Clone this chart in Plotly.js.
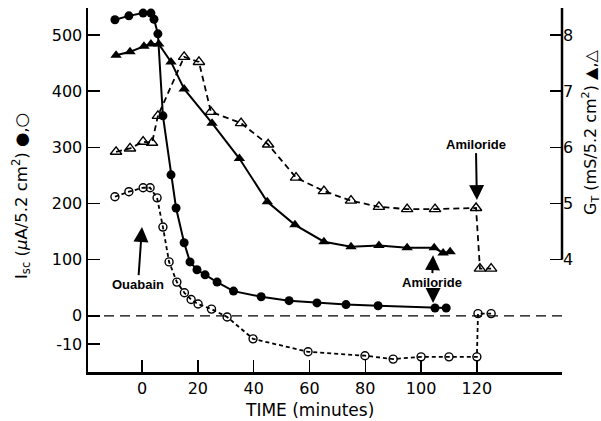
<!DOCTYPE html>
<html><head><meta charset="utf-8">
<script src="https://cdn.plot.ly/plotly-3.0.1.min.js"></script>
<style>html,body{margin:0;padding:0;background:#fff}#c{width:601px;height:421px}</style>
</head><body><div id="c"></div>
<script>
// Isc, filled circles (left axis units; below zero the axis is expanded, "-10" label sits at -50)
var timeIscFilled = [-9.7,-4.7,0.4,3.2,4.3,5.7,7.5,10.4,12.2,15.1,17.2,19.7,22.6,26.9,32.8,42.7,52.7,62.7,73.1,84.6,105,109];
var iscFilled     = [527,534,539,539,528,502,356,251,192,130,96,82,73,60,44,34,27,23,20,18,14,14];
// Isc, open circles
var timeIscOpen = [-9.7,-4.7,0.4,2.9,5.4,7.5,9.7,12.5,15.2,17.6,20.1,24.9,30.5,39.8,59.5,79.9,90,100,110,120,120.4,125.1];
var iscOpen     = [212,221,228,228,210,158,96,60,41,29,21,12,-2,-41,-64,-71,-77,-73,-73,-73,4,4];
// GT, filled triangles (right axis)
var timeGtFilled = [-9.3,-4.3,0.7,3.2,6.0,10.4,15.1,25.1,34.9,44.9,54.8,65.2,74.9,84.9,95,104.7,107.9,110.4];
var gtFilled     = [7.64,7.70,7.80,7.84,7.84,7.52,7.04,6.43,5.80,5.03,4.62,4.32,4.23,4.25,4.21,4.21,4.12,4.14];
// GT, open triangles
var timeGtOpen = [-9.3,-4.3,0.4,3.6,5.7,15.1,20.4,24.7,35.5,45.2,55.2,65.2,74.9,84.9,95,105,119.7,121.1,125.1];
var gtOpen     = [5.92,5.98,6.10,6.08,6.56,7.61,7.52,6.63,6.43,6.05,5.46,5.22,5.05,4.94,4.90,4.90,4.92,3.84,3.84];

var xTicks = [0,20,40,60,80,100,120];
var leftTickVals = [-50,0,100,200,300,400,500];
var leftTickText = ['-10','0','100','200','300','400','500'];
var rightTicks = [4,5,6,7,8];

var F = 'DejaVu Sans, Arial, sans-serif';
var AF = 'Liberation Sans Narrow, Liberation Sans, Arial, sans-serif';

var traces = [
  {x: timeIscOpen, y: iscOpen, mode:'lines+markers', xaxis:'x', yaxis:'y',
   line:{color:'#000', width:1.8, dash:'4px,3px'},
   marker:{symbol:'circle-open', size:8, color:'#000', line:{width:1.4, color:'#000'}}},
  {x: timeIscFilled, y: iscFilled, mode:'lines+markers', xaxis:'x', yaxis:'y',
   line:{color:'#000', width:2},
   marker:{symbol:'circle', size:9, color:'#000'}},
  {x: timeGtOpen, y: gtOpen, mode:'lines+markers', xaxis:'x', yaxis:'y2',
   line:{color:'#000', width:1.8, dash:'6px,4px'},
   marker:{symbol:'triangle-up-open', size:10, color:'#000', line:{width:1.4, color:'#000'}}},
  {x: timeGtFilled, y: gtFilled, mode:'lines+markers', xaxis:'x', yaxis:'y2',
   line:{color:'#000', width:2},
   marker:{symbol:'triangle-up', size:10, color:'#000'}}
];

var layout = {
  width:601, height:421,
  margin:{l:88, r:39, t:8, b:49},
  paper_bgcolor:'#fff', plot_bgcolor:'#fff',
  showlegend:false,
  font:{family:F, color:'#000', size:15},
  xaxis:{range:[-19.35,150.5], tickvals:xTicks, ticks:'inside', ticklen:12, tickwidth:1.5,
         tickcolor:'#000', showline:true, linewidth:2.5, linecolor:'#000', showgrid:false, zeroline:false,
         tickfont:{size:16, family:F}},
  yaxis:{range:[-100,548], tickvals:leftTickVals, ticktext:leftTickText, ticks:'inside', ticklen:12,
         tickwidth:1.5, tickcolor:'#000', showline:true, linewidth:2.5, linecolor:'#000',
         showgrid:false, zeroline:false, tickfont:{size:16, family:F}},
  yaxis2:{range:[2,8.48], overlaying:'y', side:'right', tickvals:rightTicks, ticks:'inside', ticklen:12,
          tickwidth:1.5, tickcolor:'#000', showline:false, showgrid:false, zeroline:false,
          tickfont:{size:16, family:F}},
  shapes:[
    {type:'line', xref:'paper', x0:0, x1:1, yref:'y', y0:0, y1:0,
     line:{color:'#000', width:1.3, dash:'10px,6px'}},
    {type:'line', xref:'paper', x0:1, x1:1, yref:'y2', y0:4, y1:8.48,
     line:{color:'#000', width:2.5}}
  ],
  annotations:[
    {xref:'paper', yref:'paper', x:(309-88)/474, y:(372-410)/364, xanchor:'center', yanchor:'middle',
     showarrow:false, text:'TIME (minutes)', font:{size:17, family:F}},
    {xref:'paper', yref:'paper', x:(21-88)/474, y:(372-196)/364, xanchor:'center', yanchor:'middle',
     showarrow:false, textangle:-90,
     text:'I<sub>sc</sub> (<i>μ</i>A/5.2 cm<sup>2</sup>) ●,○', font:{size:16.5, family:F}},
    {xref:'paper', yref:'paper', x:(590-88)/474, y:(372-133)/364, xanchor:'center', yanchor:'middle',
     showarrow:false, textangle:-90,
     text:'G<sub>T</sub> (mS/5.2 cm<sup>2</sup>) ▲,△', font:{size:16, family:F}},
    {x:0, y:158, xref:'x', yref:'y', text:'<b>Ouabain</b>', font:{size:13, family:AF},
     showarrow:true, arrowhead:2, arrowsize:1.5, arrowwidth:2, arrowcolor:'#000', ax:-4, ay:57},
    {x:120, y:206, xref:'x', yref:'y', text:'<b>Amiloride</b>', font:{size:13, family:AF},
     showarrow:true, arrowhead:2, arrowsize:1.5, arrowwidth:2, arrowcolor:'#000', ax:-1, ay:-56},
    {x:104.3, y:108, xref:'x', yref:'y', text:'<b>Amiloride</b>', font:{size:13, family:AF},
     showarrow:true, arrowhead:2, arrowsize:1.5, arrowwidth:2, arrowcolor:'#000', ax:-1, ay:27},
    {x:104.3, y:23, xref:'x', yref:'y', text:'',
     showarrow:true, arrowhead:2, arrowsize:1.5, arrowwidth:2, arrowcolor:'#000', ax:0, ay:-15}
  ]
};
Plotly.newPlot('c', traces, layout, {displayModeBar:false, staticPlot:true});
</script></body></html>
